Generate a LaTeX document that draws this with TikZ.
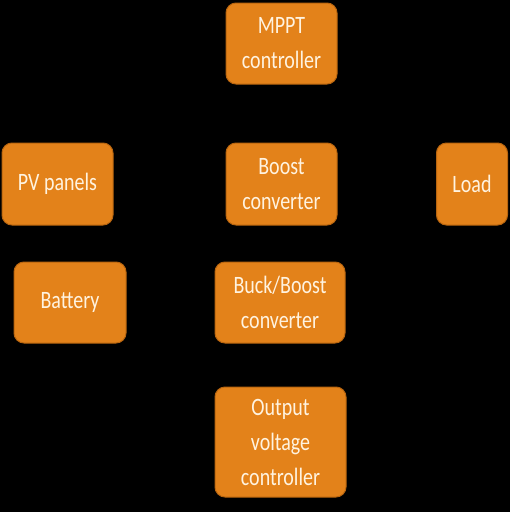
\documentclass[tikz,border=0pt]{standalone}
\usepackage{fontspec}
\newfontfamily\boxfont[FakeStretch=0.8]{Carlito}
\definecolor{boxfill}{HTML}{E3821A}
\definecolor{boxedge}{HTML}{B8650F}
\definecolor{boxtext}{HTML}{FFF3E0}
\begin{document}
\begin{tikzpicture}[x=1pt,y=-1pt,
  blk/.style={draw=boxedge, line width=1pt, fill=boxfill, rounded corners=10pt,
    text=boxtext, align=center, inner sep=0pt,
    font=\boxfont\fontsize{25}{35}\selectfont}]
\fill[black] (0,0) rectangle (510,512);
\useasboundingbox (0,0) rectangle (510,512);
\node[blk, minimum width=111pt, minimum height=81pt] (mppt) at (281.5,43.5) {MPPT\\controller};
\node[blk, minimum width=111pt, minimum height=82pt] (pv) at (57.5,184) {PV panels};
\node[blk, minimum width=111pt, minimum height=82pt] (boost) at (281.5,184) {Boost\\converter};
\node[blk, minimum width=71pt, minimum height=82pt] (load) at (472,184) {Load};
\node[blk, minimum width=112pt, minimum height=81pt] (bat) at (70,302.5) {Battery};
\node[blk, minimum width=130pt, minimum height=81pt] (bb) at (280,302.5) {Buck/Boost\\converter};
\node[blk, minimum width=131pt, minimum height=110pt] (out) at (280.5,442) {Output\\voltage\\controller};
\end{tikzpicture}
\end{document}
